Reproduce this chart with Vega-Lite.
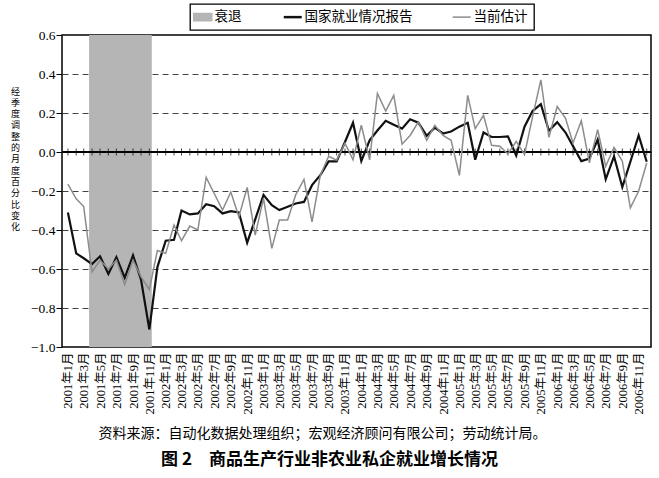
{
  "$schema": "https://vega.github.io/schema/vega-lite/v6.json",
  "width": 589,
  "height": 312,
  "autosize": "none",
  "padding": {"left": 62, "top": 35, "right": 8, "bottom": 131},
  "background": "white",
  "title": {
    "text": "图 2　商品生产行业非农业私企就业增长情况",
    "orient": "bottom",
    "anchor": "middle",
    "dx": -27,
    "offset": 12,
    "font": "Noto Sans CJK SC",
    "fontSize": 17,
    "fontWeight": "bold",
    "color": "#000"
  },
  "datasets": {
    "jobs": [
      {"month": "2001-01-01", "report": -0.31, "estimate": -0.165},
      {"month": "2001-02-01", "report": -0.52, "estimate": -0.24},
      {"month": "2001-03-01", "report": -0.545, "estimate": -0.28},
      {"month": "2001-04-01", "report": -0.575, "estimate": -0.615},
      {"month": "2001-05-01", "report": -0.535, "estimate": -0.555},
      {"month": "2001-06-01", "report": -0.625, "estimate": -0.6},
      {"month": "2001-07-01", "report": -0.54, "estimate": -0.555},
      {"month": "2001-08-01", "report": -0.645, "estimate": -0.68},
      {"month": "2001-09-01", "report": -0.53, "estimate": -0.555},
      {"month": "2001-10-01", "report": -0.655, "estimate": -0.64},
      {"month": "2001-11-01", "report": -0.91, "estimate": -0.705},
      {"month": "2001-12-01", "report": -0.59, "estimate": -0.505},
      {"month": "2002-01-01", "report": -0.455, "estimate": -0.52},
      {"month": "2002-02-01", "report": -0.45, "estimate": -0.375},
      {"month": "2002-03-01", "report": -0.3, "estimate": -0.455},
      {"month": "2002-04-01", "report": -0.32, "estimate": -0.38},
      {"month": "2002-05-01", "report": -0.315, "estimate": -0.4},
      {"month": "2002-06-01", "report": -0.268, "estimate": -0.13},
      {"month": "2002-07-01", "report": -0.278, "estimate": -0.213},
      {"month": "2002-08-01", "report": -0.315, "estimate": -0.298},
      {"month": "2002-09-01", "report": -0.303, "estimate": -0.205},
      {"month": "2002-10-01", "report": -0.31, "estimate": -0.332},
      {"month": "2002-11-01", "report": -0.465, "estimate": -0.182},
      {"month": "2002-12-01", "report": -0.346, "estimate": -0.426},
      {"month": "2003-01-01", "report": -0.22, "estimate": -0.238},
      {"month": "2003-02-01", "report": -0.273, "estimate": -0.494},
      {"month": "2003-03-01", "report": -0.298, "estimate": -0.349},
      {"month": "2003-04-01", "report": -0.281, "estimate": -0.349},
      {"month": "2003-05-01", "report": -0.264, "estimate": -0.22},
      {"month": "2003-06-01", "report": -0.256, "estimate": -0.141},
      {"month": "2003-07-01", "report": -0.17, "estimate": -0.358},
      {"month": "2003-08-01", "report": -0.119, "estimate": -0.119},
      {"month": "2003-09-01", "report": -0.048, "estimate": -0.022},
      {"month": "2003-10-01", "report": -0.048, "estimate": -0.042},
      {"month": "2003-11-01", "report": 0.051, "estimate": 0.045},
      {"month": "2003-12-01", "report": 0.15, "estimate": -0.04},
      {"month": "2004-01-01", "report": -0.046, "estimate": 0.137},
      {"month": "2004-02-01", "report": 0.06, "estimate": -0.04},
      {"month": "2004-03-01", "report": 0.11, "estimate": 0.3},
      {"month": "2004-04-01", "report": 0.16, "estimate": 0.21},
      {"month": "2004-05-01", "report": 0.14, "estimate": 0.29},
      {"month": "2004-06-01", "report": 0.12, "estimate": 0.04},
      {"month": "2004-07-01", "report": 0.168, "estimate": 0.085},
      {"month": "2004-08-01", "report": 0.15, "estimate": 0.155},
      {"month": "2004-09-01", "report": 0.083, "estimate": 0.06},
      {"month": "2004-10-01", "report": 0.125, "estimate": 0.137},
      {"month": "2004-11-01", "report": 0.095, "estimate": 0.085},
      {"month": "2004-12-01", "report": 0.105, "estimate": 0.06},
      {"month": "2005-01-01", "report": 0.13, "estimate": -0.12},
      {"month": "2005-02-01", "report": 0.15, "estimate": 0.29},
      {"month": "2005-03-01", "report": -0.04, "estimate": 0.12},
      {"month": "2005-04-01", "report": 0.1, "estimate": 0.188},
      {"month": "2005-05-01", "report": 0.077, "estimate": 0.034},
      {"month": "2005-06-01", "report": 0.077, "estimate": 0.03},
      {"month": "2005-07-01", "report": 0.08, "estimate": -0.01},
      {"month": "2005-08-01", "report": -0.018, "estimate": 0.055},
      {"month": "2005-09-01", "report": 0.13, "estimate": -0.013},
      {"month": "2005-10-01", "report": 0.21, "estimate": 0.18},
      {"month": "2005-11-01", "report": 0.245, "estimate": 0.37},
      {"month": "2005-12-01", "report": 0.109, "estimate": 0.075},
      {"month": "2006-01-01", "report": 0.153, "estimate": 0.233},
      {"month": "2006-02-01", "report": 0.1, "estimate": 0.173},
      {"month": "2006-03-01", "report": 0.03, "estimate": 0.046},
      {"month": "2006-04-01", "report": -0.047, "estimate": 0.16},
      {"month": "2006-05-01", "report": -0.034, "estimate": -0.056},
      {"month": "2006-06-01", "report": 0.063, "estimate": 0.114},
      {"month": "2006-07-01", "report": -0.14, "estimate": -0.073},
      {"month": "2006-08-01", "report": -0.022, "estimate": 0.024},
      {"month": "2006-09-01", "report": -0.18, "estimate": -0.047},
      {"month": "2006-10-01", "report": -0.05, "estimate": -0.286},
      {"month": "2006-11-01", "report": 0.085, "estimate": -0.2},
      {"month": "2006-12-01", "report": -0.05, "estimate": -0.056}
    ],
    "recession": [
      {"start": "2001-03-21", "end": "2001-11-10"}
    ]
  },
  "encoding": {
    "x": {
      "field": "month",
      "type": "temporal",
      "scale": {
        "type": "utc",
        "domain": [
          {"year": 2000, "month": 12, "date": 10, "utc": true},
          {"year": 2006, "month": 12, "date": 17, "utc": true}
        ]
      },
      "axis": {
        "title": "资料来源：自动化数据处理组织；宏观经济顾问有限公司；劳动统计局。",
        "titleFont": "Noto Sans CJK SC",
        "titleFontSize": 14,
        "titleFontWeight": "normal",
        "titleColor": "#000",
        "titleAnchor": "start",
        "titleAlign": "left",
        "titleBaseline": "middle",
        "titleX": 36,
        "titleY": 86,
        "tickCount": {"interval": "month", "step": 2},
        "labelExpr": "utcFormat(datum.value, '%Y年%-m月')",
        "labelAngle": -90,
        "labelFont": "Liberation Serif, Noto Sans CJK SC",
        "labelFontSize": 12.5,
        "labelColor": "#000",
        "labelPadding": 5,
        "labelOverlap": false,
        "labelFlush": false,
        "ticks": false,
        "domain": false,
        "grid": false
      }
    }
  },
  "layer": [
    {
      "data": {"name": "recession"},
      "mark": {"type": "rect"},
      "encoding": {
        "x": {"field": "start", "type": "temporal"},
        "x2": {"field": "end"},
        "y": {
          "datum": 0.6,
          "type": "quantitative",
          "scale": {"domain": [-1, 0.6], "nice": false, "zero": false},
          "axis": {
            "values": [-1, -0.8, -0.6, -0.4, -0.2, 0, 0.2, 0.4, 0.6],
            "tickCount": 12,
            "format": ".1f",
            "labelOverlap": false,
            "labelFont": "Liberation Serif",
            "labelFontSize": 13.5,
            "labelColor": "#000",
            "labelPadding": 1,
            "tickSize": 6,
            "tickColor": "#000",
            "domain": false,
            "grid": true,
            "gridColor": {"condition": {"test": "datum.value === 0", "value": "#000"}, "value": "#444"},
            "gridDash": {"condition": {"test": "datum.value === 0", "value": []}, "value": [6, 4]},
            "gridWidth": 1,
            "title": ["经", "季", "度", "调", "整", "的", "月", "度", "百", "分", "比", "变", "化"],
            "titleFont": "Noto Sans CJK SC",
            "titleFontSize": 9,
            "titleFontWeight": "normal",
            "titleColor": "#000",
            "titleAngle": 0,
            "titleAlign": "center",
            "titleBaseline": "top",
            "titleLineHeight": 11.3,
            "titleX": -47,
            "titleY": 52
          }
        },
        "y2": {"datum": -1},
        "color": {
          "datum": "衰退",
          "type": "nominal",
          "scale": {
            "domain": ["衰退", "国家就业情况报告", "当前估计"],
            "range": ["#b5b5b5", "#111111", "#8c8c8c"]
          },
          "legend": {
            "orient": "none",
            "legendX": 128,
            "legendY": -31,
            "direction": "horizontal",
            "title": null,
            "strokeColor": "#000",
            "padding": 6,
            "columnPadding": 36,
            "labelFont": "Noto Sans CJK SC",
            "labelFontSize": 13.5,
            "labelColor": "#000",
            "labelOffset": 5,
            "symbolSize": 324,
            "encode": {
              "legend": {"update": {"strokeWidth": {"value": 1.3}}},
              "symbols": {
                "update": {
                  "shape": {"signal": "datum.value === '衰退' ? 'M-1,-0.4H1V0.4H-1Z' : 'stroke'"},
                  "fill": {"signal": "datum.value === '衰退' ? '#b5b5b5' : 'transparent'"},
                  "stroke": {"signal": "datum.value === '衰退' ? 'transparent' : scale('color', datum.value)"},
                  "strokeWidth": {"signal": "datum.value === '国家就业情况报告' ? 2.5 : 1.5"},
                  "opacity": {"value": 1}
                }
              }
            }
          }
        }
      }
    },
    {
      "data": {"name": "jobs"},
      "layer": [
        {
          "mark": {"type": "rule", "color": "#000", "strokeWidth": 1},
          "encoding": {"x": null, "y": {"datum": 0, "type": "quantitative"}}
        },
        {
          "mark": {"type": "tick", "orient": "vertical", "color": "#000", "size": 7, "thickness": 1},
          "encoding": {"y": {"datum": 0, "type": "quantitative"}}
        },
        {
          "mark": {"type": "line", "strokeWidth": 2.2},
          "encoding": {
            "y": {"field": "report", "type": "quantitative"},
            "color": {"datum": "国家就业情况报告", "type": "nominal"}
          }
        },
        {
          "mark": {"type": "line", "strokeWidth": 1.5},
          "encoding": {
            "y": {"field": "estimate", "type": "quantitative"},
            "color": {"datum": "当前估计", "type": "nominal"}
          }
        }
      ]
    },
    {
      "data": {"values": [{"label": "简单相关度=0.90"}]},
      "layer": [
        {
          "mark": {"type": "rect", "fill": "white", "stroke": "#000", "strokeWidth": 1},
          "encoding": {
            "x": {"datum": {"year": 2004, "month": 4, "date": 9, "utc": true}, "type": "temporal"},
            "x2": {"datum": {"year": 2005, "month": 6, "date": 1, "utc": true}},
            "y": {"datum": -0.441, "type": "quantitative"},
            "y2": {"datum": -0.564}
          }
        },
        {
          "mark": {"type": "text", "font": "Liberation Serif, Noto Sans CJK SC", "fontSize": 13, "color": "#000", "align": "center", "baseline": "middle"},
          "encoding": {
            "x": {"datum": {"year": 2004, "month": 11, "date": 5, "utc": true}, "type": "temporal"},
            "y": {"datum": -0.503, "type": "quantitative"},
            "text": {"field": "label", "type": "nominal"}
          }
        }
      ]
    }
  ],
  "config": {
    "view": {"stroke": "#000", "strokeWidth": 1.5}
  }
}
